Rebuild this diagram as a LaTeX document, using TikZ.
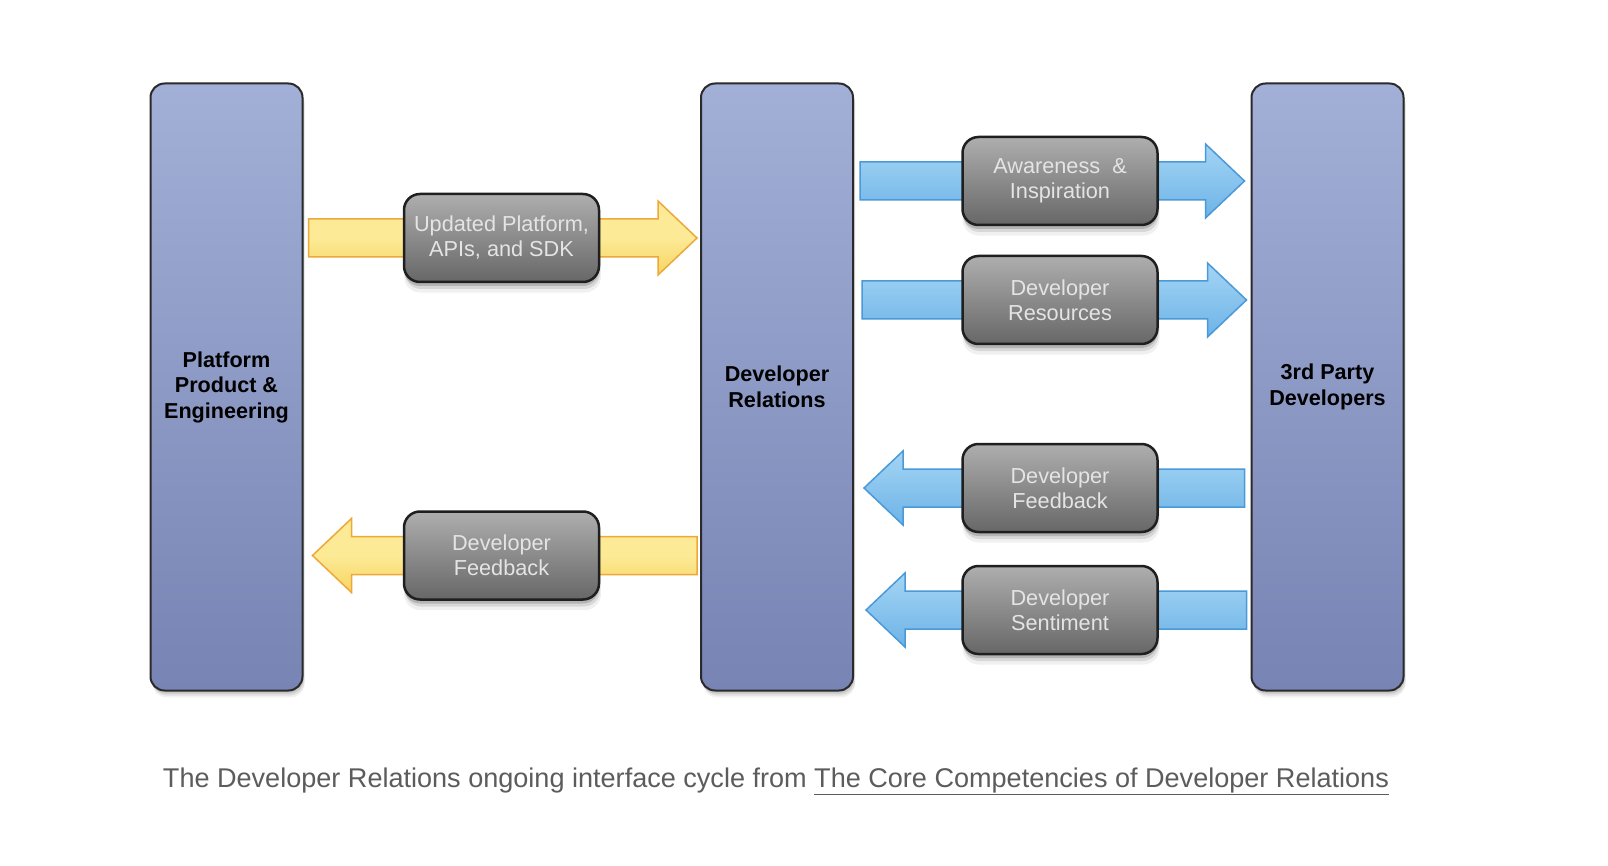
\documentclass[tikz,border=0pt]{standalone}
\usepackage{fontspec}
\setmainfont{Liberation Sans}
\usetikzlibrary{calc,shadows}
\definecolor{colTop}{HTML}{A2AFD6}
\definecolor{colBot}{HTML}{7784B4}
\definecolor{colBorder}{HTML}{2A2A2A}
\definecolor{boxTop}{HTML}{AEAEAE}
\definecolor{boxBot}{HTML}{676767}
\definecolor{boxBorder}{HTML}{1F1F1F}
\definecolor{boxText}{HTML}{E4E4E4}
\definecolor{yelTop}{HTML}{FCEA96}
\definecolor{yelBot}{HTML}{F7D462}
\definecolor{yelBorder}{HTML}{EEA83A}
\definecolor{bluTop}{HTML}{A4D5F4}
\definecolor{bluBot}{HTML}{6DB3E7}
\definecolor{bluBorder}{HTML}{4A99D8}
\definecolor{capGray}{HTML}{5C5C5C}
\newcommand\bigarr[4]{%
  \path[#1] ($(#2)+(0,-19)$) -- ($(#3)-(#4,19)$) -- ($(#3)-(#4,37)$) -- (#3)
    -- ($(#3)-(#4,-37)$) -- ($(#3)-(#4,-19)$) -- ($(#2)+(0,19)$) -- cycle;}
\begin{document}
\begin{tikzpicture}[x=1pt,y=-1pt,
  colshadow/.style={
    general shadow={shadow xshift=1pt, shadow yshift=-3pt, opacity=0.10, fill=black},
    general shadow={shadow xshift=2pt, shadow yshift=-5pt, opacity=0.08, fill=black},
    general shadow={shadow xshift=2pt, shadow yshift=-7pt, opacity=0.05, fill=black}},
  boxshadow/.style={
    general shadow={shadow xshift=0pt, shadow yshift=-4pt, opacity=0.16, fill=black},
    general shadow={shadow xshift=1pt, shadow yshift=-7pt, opacity=0.10, fill=black},
    general shadow={shadow xshift=1pt, shadow yshift=-10pt, opacity=0.06, fill=black, shadow scale=1.01}},
  column/.style={draw=colBorder, line width=2pt, rounded corners=14pt,
    top color=colTop, bottom color=colBot,
    minimum width=152pt, minimum height=607pt, inner sep=0pt,
    font=\bfseries\fontsize{21.6}{25.5}\selectfont, text=black, align=center,
    colshadow},
  graybox/.style={draw=boxBorder, line width=2.5pt, rounded corners=16pt,
    top color=boxTop, bottom color=boxBot,
    minimum width=195pt, minimum height=88pt, inner sep=0pt,
    font=\fontsize{21.7}{25}\selectfont, text=boxText, align=center,
    boxshadow},
  yelarrow/.style={draw=yelBorder, line width=1.5pt, line join=miter,
    top color=yelTop, bottom color=yelBot, middle color=yelTop},
  bluarrow/.style={draw=bluBorder, line width=1.5pt, line join=miter,
    top color=bluTop, bottom color=bluBot}
]
\useasboundingbox[fill=white] (0,0) rectangle (1608,866);

% columns
\node[column] (L) at (226.5,387) {Platform\\Product \&\\Engineering};
\node[column] (M) at (777,387) {Developer\\Relations};
\node[column] (R) at (1327.5,387) {3rd Party\\Developers};

% box centres
\coordinate (c1) at (501.5,238);
\coordinate (c2) at (501.5,555.5);
\coordinate (c3) at (1060,181);
\coordinate (c4) at (1060,300);
\coordinate (c5) at (1060,488);
\coordinate (c6) at (1060,610);

% arrow ends
\coordinate (a1s) at ($(L.east|-c1)+(5,0)$);
\coordinate (a1t) at ($(M.west|-c1)+(-3,0)$);
\coordinate (a2s) at ($(M.west|-c2)+(-3,0)$);
\coordinate (a2t) at ($(L.east|-c2)+(9,0)$);
\coordinate (a3s) at ($(M.east|-c3)+(6,0)$);
\coordinate (a3t) at ($(R.west|-c3)+(-6,0)$);
\coordinate (a4s) at ($(M.east|-c4)+(8,0)$);
\coordinate (a4t) at ($(R.west|-c4)+(-4,0)$);
\coordinate (a5s) at ($(R.west|-c5)+(-6,0)$);
\coordinate (a5t) at ($(M.east|-c5)+(10,0)$);
\coordinate (a6s) at ($(R.west|-c6)+(-4,0)$);
\coordinate (a6t) at ($(M.east|-c6)+(12,0)$);

% arrows
\bigarr{yelarrow}{a1s}{a1t}{39}
\bigarr{yelarrow}{a2s}{a2t}{-39}
\bigarr{bluarrow}{a3s}{a3t}{39}
\bigarr{bluarrow}{a4s}{a4t}{39}
\bigarr{bluarrow}{a5s}{a5t}{-39}
\bigarr{bluarrow}{a6s}{a6t}{-39}

% boxes
\node[graybox] (b1) at (c1) {Updated Platform,\\APIs, and SDK};
\node[graybox] (b2) at (c2) {Developer\\Feedback};
\node[graybox] (b3) at (c3) {Awareness~~\&\\Inspiration};
\node[graybox] (b4) at (c4) {Developer\\Resources};
\node[graybox] (b5) at (c5) {Developer\\Feedback};
\node[graybox] (b6) at (c6) {Developer\\Sentiment};

% caption
\node[anchor=base, inner sep=0pt, text=capGray] (cap) at (776,787)
  {\resizebox{1226pt}{!}{\fontsize{26}{30}\selectfont The Developer Relations ongoing interface cycle from \underline{The Core Competencies of Developer Relations}}};
\end{tikzpicture}
\end{document}
